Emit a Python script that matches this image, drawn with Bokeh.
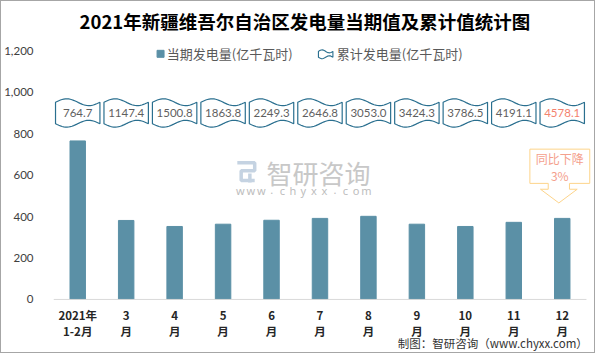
import numpy as np
from bokeh.plotting import figure
from bokeh.models import FixedTicker, NumeralTickFormatter, Range1d
from bokeh.core.properties import value
from bokeh.embed import file_html
from bokeh.resources import INLINE

# ---------------- data ----------------
cat_line1 = ["2021年", "3", "4", "5", "6", "7", "8", "9", "10", "11", "12"]
cat_line2 = ["1-2月", "月", "月", "月", "月", "月", "月", "月", "月", "月", "月"]
monthly = [764.7, 381, 352, 363, 382, 391, 401, 363, 352, 372, 391]
cumulative = [764.7, 1147.4, 1500.8, 1863.8, 2249.3, 2646.8, 3053.0, 3424.3, 3786.5, 4191.1, 4578.1]
y_ticks = [0, 200, 400, 600, 800, 1000, 1200]
title_text = "2021年新疆维吾尔自治区发电量当期值及累计值统计图"
legend_bar = "当期发电量(亿千瓦时)"
legend_cum = "累计发电量(亿千瓦时)"
note_lines = ["同比下降", "3%"]
source_text = "制图：智研咨询（www.chyxx.com）"
wm_title = "智研咨询"
wm_url = "www.chyxx.com"

# ---------------- layout helpers ----------------
W, H = 595, 353
SX, SY = W / 604.0, H / 361.0
FL = 41                       # frame left (px)
REF_PXU = 50.18               # reference px per category
PXU = REF_PXU * SX
REF_PYU = 0.2120              # reference px per value unit
PYU = REF_PYU * SY
FY0 = (305.7 - 1) * SY        # figure px of value 0


def fx(rx):
    return (rx - 1) * SX


def fy(ry):
    return (ry - 1) * SY


def dx(rx):
    return -0.5 + (fx(rx) - FL) / PXU


def dy(ry):
    return (FY0 - fy(ry)) / PYU


BAR = "#5b90a6"
WAVE = "#2a6f8f"

p = figure(width=W, height=H, output_backend="svg", toolbar_location=None,
           title=None, x_axis_location=None,
           x_range=Range1d(-0.5, -0.5 + (W - FL) / PXU),
           y_range=Range1d((FY0 - H) / PYU, FY0 / PYU),
           min_border_left=FL, min_border_right=0, min_border_top=0, min_border_bottom=0)
p.outline_line_color = None
p.xgrid.grid_line_color = None
p.ygrid.grid_line_color = None
p.background_fill_color = "white"
p.border_fill_color = "white"
p.styles = {"border": "1px solid #a6a6a6"}

ya = p.yaxis[0]
ya.ticker = FixedTicker(ticks=y_ticks)
ya.formatter = NumeralTickFormatter(format="0,0")
ya.axis_line_color = None
ya.major_tick_line_color = None
ya.minor_tick_line_color = None
ya.major_label_standoff = 14
ya.major_label_text_font = "Lato"
ya.major_label_text_font_size = "11.5px"
ya.major_label_text_color = "#404040"

idx = list(range(len(monthly)))

# ---------------- watermark ----------------
p.text(x=[dx(317)], y=[dy(176)], text=[wm_title], text_font=value("Noto Sans CJK SC"),
       text_font_size="26px", text_color="#c8c8c8", text_align="center", text_baseline="middle")
url_chars = list(wm_url)
url_x = [dx(236 + k * 10.9) for k in range(len(url_chars))]
p.text(x=url_x, y=[dy(194)] * len(url_chars), text=url_chars, text_font=value("Noto Sans"),
       text_font_size="11px", text_color="#bdbdbd", text_align="center", text_baseline="middle")
icon_paths_x = [[233, 251, 251, 237, 237, 251], [246, 246]]
icon_paths_y = [[166, 166, 174, 174, 184, 184], [177, 186]]
p.multi_line(xs=[[dx(v) for v in a] for a in icon_paths_x],
             ys=[[dy(v) for v in a] for a in icon_paths_y],
             line_color="#c5d3e2", line_width=3.5)

# ---------------- bars ----------------
p.vbar(x=idx, top=monthly, width=16 / REF_PXU, color=BAR)
p.segment(x0=[-0.5], x1=[10.5], y0=[0], y1=[0], line_color="#d9d9d9", line_width=1)


# ---------------- wave boxes (cumulative) ----------------
def wave_shape(cx_unit, half_w_px, yt, yb, amp, n=28):
    t = np.linspace(0, 1, n)
    xo = (-half_w_px + 2 * half_w_px * t) / REF_PXU
    top_y = [dy(yt - amp * np.sin(2 * np.pi * s)) for s in t]
    bot_y = [dy(yb + amp * np.sin(2 * np.pi * s)) for s in t[::-1]]
    xs = list(cx_unit + xo) + list(cx_unit + xo[::-1])
    ys = top_y + bot_y
    return xs, ys


bx, by = [], []
for i in idx:
    xs, ys = wave_shape(i, 23, 104, 126, 3.5)
    bx.append(xs)
    by.append(ys)
p.patches(xs=bx, ys=by, fill_color="white", line_color=WAVE, line_width=1.2)

cum_labels = ["%.1f" % v for v in cumulative]
cum_colors = ["#5f5f5f"] * (len(cumulative) - 1) + ["#f4826e"]
p.text(x=idx, y=[dy(115.5)] * len(idx), text=cum_labels, text_color=cum_colors,
       text_font=value("Lato"), text_font_size="11.5px", text_align="center",
       text_baseline="middle")

# ---------------- callout ----------------
call_px = [(536, 152), (598, 152), (598, 187), (577, 187), (577, 193), (585, 193), (566, 207),
           (547, 193), (555, 193), (555, 187), (536, 187)]
p.patch(x=[dx(a) for a, b in call_px], y=[dy(b) for a, b in call_px],
        fill_color="white", line_color="#fdd48a", line_width=1)
p.text(x=[dx(567), dx(567)], y=[dy(162), dy(179)], text=note_lines,
       text_color="#f4a08c", text_font=value("Noto Sans CJK SC"), text_font_size="12px",
       text_align="center", text_baseline="middle")

# ---------------- x labels ----------------
p.text(x=idx, y=[dy(322)] * len(idx), text=cat_line1, text_font=value("Noto Sans CJK SC"),
       text_font_style="bold", text_font_size="11.5px", text_color="#262626",
       text_align="center", text_baseline="middle")
p.text(x=idx, y=[dy(338)] * len(idx), text=cat_line2, text_font=value("Noto Sans CJK SC"),
       text_font_style="bold", text_font_size="11.5px", text_color="#262626",
       text_align="center", text_baseline="middle")

# ---------------- title ----------------
p.text(x=[dx(303)], y=[dy(21)], text=[title_text], text_font=value("Noto Sans CJK SC"),
       text_font_style="bold", text_font_size="18.5px", text_color="#000000",
       text_align="center", text_baseline="middle")

# ---------------- legend ----------------
p.scatter(x=[dx(153.5)], y=[dy(54.5)], marker="square", size=7, color=BAR)
p.text(x=[dx(160)], y=[dy(54)], text=[legend_bar], text_font=value("Noto Sans CJK SC"),
       text_font_size="13px", text_color="#595959", text_align="left", text_baseline="middle")
lx, ly = wave_shape(dx(324.5), 7.5, 52, 58, 1.5, n=16)
p.patch(x=lx, y=ly, fill_color="white", line_color=WAVE, line_width=1.1)
p.text(x=[dx(336)], y=[dy(54)], text=[legend_cum], text_font=value("Noto Sans CJK SC"),
       text_font_size="13px", text_color="#595959", text_align="left", text_baseline="middle")

# ---------------- source ----------------
p.text(x=[dx(596)], y=[dy(350)], text=[source_text], text_font=value("Noto Sans CJK SC"),
       text_font_size="11.5px", text_color="#333333", text_align="right", text_baseline="middle")

open("out.html", "w").write(file_html(p, INLINE))
